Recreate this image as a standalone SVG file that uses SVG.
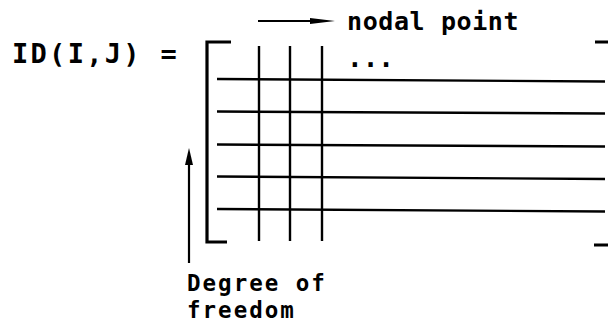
<svg xmlns="http://www.w3.org/2000/svg" width="608" height="330" viewBox="0 0 608 330">
<style>
  .t { font-family: "DejaVu Sans Mono", "Liberation Mono", monospace; fill: #000; font-weight: bold; }
  .g { stroke: #000; stroke-width: 2.4; fill: none; stroke-linecap: butt; }
  .b { stroke: #000; stroke-width: 3.2; fill: none; stroke-linejoin: miter; }
  .a { stroke: #000; stroke-width: 2.2; fill: none; }
</style>
<rect width="608" height="330" fill="#fff"/>
<g id="label-id">
  <text class="t" x="12" y="63" font-size="27" letter-spacing="2.3">ID(I,J) =</text>
</g>
<g id="matrix">
  <path class="b" d="M231 42 H207 V242 H227"/>
  <path class="b" d="M595 42 H608 M594 245 H608"/>
  <g class="g">
    <line x1="259" y1="46" x2="259" y2="241"/>
    <line x1="290" y1="46" x2="290" y2="241"/>
    <line x1="322" y1="46" x2="322" y2="241"/>
    <line x1="217" y1="79" x2="605" y2="81.5"/>
    <line x1="217" y1="111.5" x2="605" y2="113.5"/>
    <line x1="217" y1="144.5" x2="605" y2="146.5"/>
    <line x1="217" y1="176.5" x2="605" y2="179"/>
    <line x1="217" y1="209" x2="605" y2="211.5"/>
  </g>
  <text class="t" x="347" y="67" font-size="26">...</text>
</g>
<g id="label-nodal">
  <text class="t" x="347" y="30" font-size="25" letter-spacing="0.6">nodal point</text>
</g>
<g id="label-dof">
  <text class="t" x="187" y="291" font-size="22.5" letter-spacing="2">Degree of</text>
  <text class="t" x="187" y="317.5" font-size="22.5" letter-spacing="2">freedom</text>
</g>
<g id="connectors">
  <line class="a" x1="258" y1="21" x2="314" y2="21"/>
  <polygon points="310,18 335,21 310,24" fill="#000"/>
  <line class="a" x1="189" y1="263" x2="189" y2="162"/>
  <polygon points="185,165 189,148 193,165" fill="#000"/>
</g>
</svg>
